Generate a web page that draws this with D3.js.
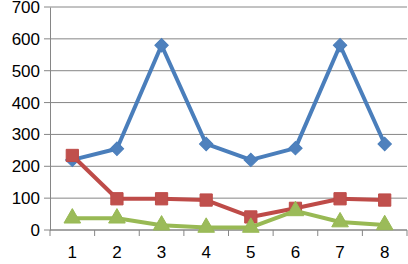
<!DOCTYPE html>
<html>
<head>
<meta charset="utf-8">
<script src="https://cdn.jsdelivr.net/npm/d3@7"></script>
<style>
  body { margin: 0; background: #fff; }
  svg text { font-family: "Liberation Sans", Arial, sans-serif; }
</style>
</head>
<body>
<div id="chart"></div>
<script>
const categories = ["1", "2", "3", "4", "5", "6", "7", "8"];
const blueValues = [220, 255, 580, 270, 220, 257, 580, 270];
const redValues = [234, 98, 98, 94, 41, 68, 98, 94];
const greenValues = [37, 37, 15, 8, 8, 60, 25, 16];
const yTicks = [0, 100, 200, 300, 400, 500, 600, 700];

const width = 408;
const height = 264;
const margin = { top: 7, right: 1, bottom: 34, left: 50 };

const svg = d3.select("#chart")
    .append("svg")
    .attr("width", width)
    .attr("height", height);

const x = d3.scaleBand()
    .domain(categories)
    .range([margin.left, width - margin.right]);

const y = d3.scaleLinear()
    .domain([0, 700])
    .range([height - margin.bottom, margin.top]);

// Gridlines
svg.append("g")
    .selectAll("line")
    .data(yTicks)
    .join("line")
    .attr("x1", margin.left - 6)
    .attr("x2", width - margin.right)
    .attr("y1", d => y(d))
    .attr("y2", d => y(d))
    .attr("stroke", "#868686")
    .attr("stroke-width", 1);

// Y axis
const yAxis = svg.append("g")
    .attr("transform", `translate(${margin.left},0)`)
    .call(d3.axisLeft(y).tickValues(yTicks).tickSize(0).tickPadding(10));
yAxis.select(".domain").attr("stroke", "#868686");
yAxis.selectAll("text").attr("font-size", 17).attr("fill", "#000");

// X axis
const xAxisG = svg.append("g")
    .attr("transform", `translate(0,${y(0)})`);
xAxisG.append("line")
    .attr("x1", margin.left)
    .attr("x2", width - margin.right)
    .attr("stroke", "#868686");
xAxisG.selectAll(".tick-mark")
    .data(categories.concat(["end"]))
    .join("line")
    .attr("x1", (d, i) => margin.left + i * x.step())
    .attr("x2", (d, i) => margin.left + i * x.step())
    .attr("y1", 0)
    .attr("y2", 6)
    .attr("stroke", "#868686");
xAxisG.selectAll("text")
    .data(categories)
    .join("text")
    .attr("x", d => x(d) + x.bandwidth() / 2)
    .attr("y", 28)
    .attr("text-anchor", "middle")
    .attr("font-size", 17)
    .text(d => d);

const series = [
    { values: blueValues, line: "#4A7EBB", fill: "#4F81BD", shape: d3.symbolSquare, size: 90, rotate: 45 },
    { values: redValues, line: "#BE4B48", fill: "#C0504D", shape: d3.symbolSquare, size: 150, rotate: 0 },
    { values: greenValues, line: "#98B954", fill: "#9BBB59", shape: d3.symbolTriangle, size: 120, rotate: 0 }
];

const line = d3.line()
    .x((d, i) => x(categories[i]) + x.bandwidth() / 2)
    .y(d => y(d));

series.forEach(s => {
    svg.append("path")
        .datum(s.values)
        .attr("d", line)
        .attr("fill", "none")
        .attr("stroke", s.line)
        .attr("stroke-width", 4)
        .attr("stroke-linejoin", "round");
    svg.append("g")
        .selectAll("path")
        .data(s.values)
        .join("path")
        .attr("transform", (d, i) => `translate(${x(categories[i]) + x.bandwidth() / 2},${y(d)}) rotate(${s.rotate})`)
        .attr("d", d3.symbol().type(s.shape).size(s.size))
        .attr("fill", s.fill)
        .attr("stroke", s.line)
        .attr("stroke-width", 1);
});
</script>
</body>
</html>
